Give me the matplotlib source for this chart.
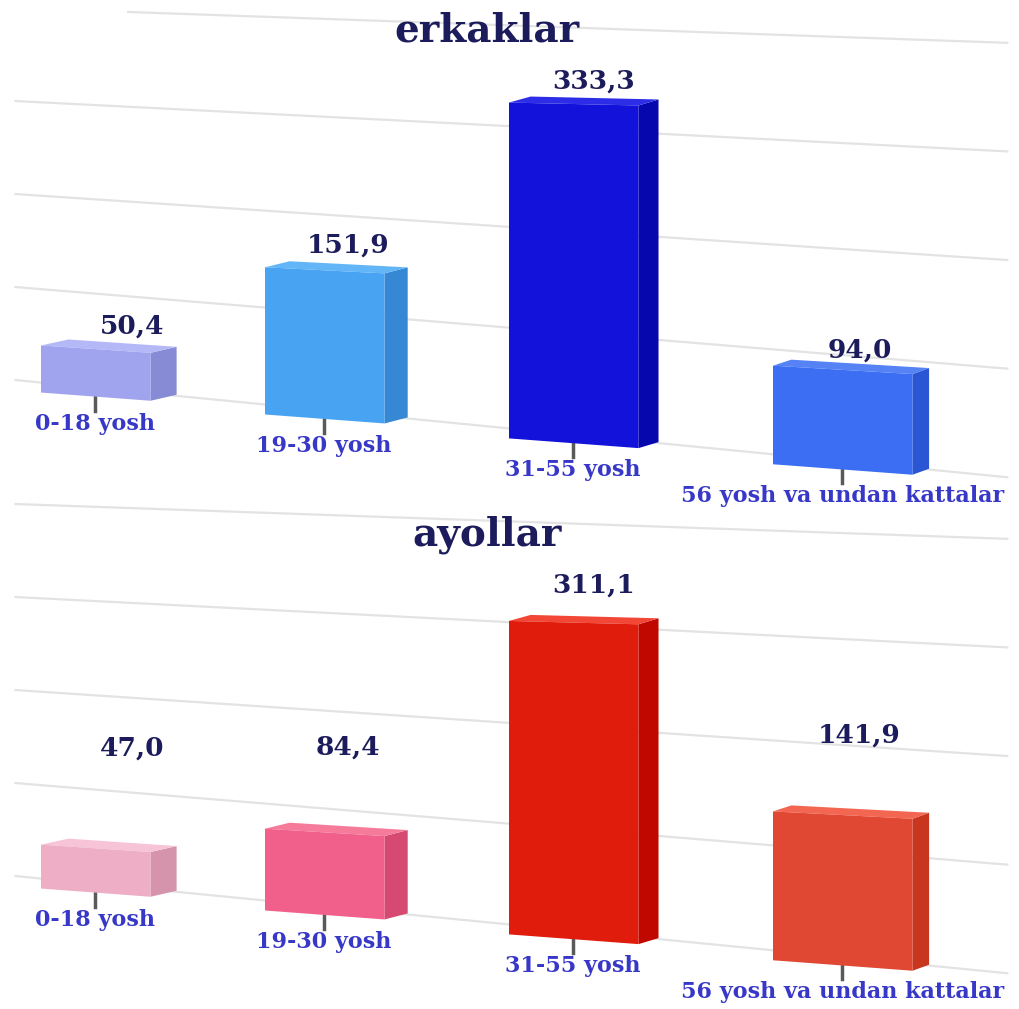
"""Two pseudo-3D bar panels (erkaklar / ayollar) on a tilted perspective floor."""
import numpy as np
import matplotlib
matplotlib.use("Agg")
import matplotlib.pyplot as plt
import matplotlib.transforms as mtransforms

# ---- data -----------------------------------------------------------------
AGE_GROUPS = ["0-18 yosh", "19-30 yosh", "31-55 yosh", "56 yosh va undan kattalar"]
MEN = [50.4, 151.9, 333.3, 94.0]
WOMEN = [47.0, 84.4, 311.1, 141.9]
GRID_VALUES = [0, 100, 200, 300, 400]

# ---- style ----------------------------------------------------------------
MEN_FRONT = ["#a0a4ee", "#48a4f2", "#1212da", "#3b6ef2"]
MEN_SIDE = ["#878bd6", "#3788d4", "#0707ae", "#2a56d4"]
MEN_TOP = ["#b4b8f7", "#62b5f7", "#2d2de8", "#5583f6"]
WOMEN_FRONT = ["#eeaec6", "#f0608a", "#e01c0c", "#e04834"]
WOMEN_SIDE = ["#d594ab", "#d64a72", "#c00800", "#c83620"]
WOMEN_TOP = ["#f7c4d7", "#f67b9b", "#f24636", "#f26652"]
VALUE_LIFT_MEN = [17, 19, 17, 14]        # px above the bar's back top edge
VALUE_LIFT_WOMEN = [94, 79, 32, 74]
VALUE_SHIFT = [10, 0, 0, 0]              # px, small horizontal nudges
NAVY = "#1c1c5c"
LABEL_BLUE = "#3838c8"
GRID = "#e3e3e3"
BAR_W = 0.5
FONT = "DejaVu Serif"

W, H = 1019, 1009


def col_x(u):
    return 41 + 214 * u + 10 * u ** 2


class Tilt(mtransforms.Transform):
    """(category position, value) -> pixel coords on the perspective floor.

    Bars (lift > 0) sit in front of the wall: they are shifted down and their
    own edges slope a little less than the wall grid.
    """
    input_dims = output_dims = 2
    is_separable = False
    has_inverse = False

    def __init__(self, yoff, lift=0.0, back=False):
        super().__init__()
        self.yoff, self.lift, self.back = yoff, lift, back

    def transform_non_affine(self, values):
        values = np.asarray(values, dtype=float)
        u, v = values[:, 0], values[:, 1]
        x = col_x(u)
        if self.lift:
            xa = col_x(np.floor(u + 1e-9))
            floor = 0.098 * (xa - 15) + 0.075 * (x - xa)
        else:
            floor = 0.098 * (x - 15)
        y = (self.yoff + 380 + floor
             - v * (0.93 + 0.156 * (x - 15) / 992) + self.lift)
        if self.back:
            x = x + (28 - 0.0125 * x)
            y = y - 6
        return np.column_stack([x, y])


fig = plt.figure(figsize=(W / 100, H / 100), dpi=100)
ax = fig.add_axes([0, 0, 1, 1])
ax.set_xlim(0, W)
ax.set_ylim(H, 0)
ax.axis("off")


def draw_panel(yoff, title, title_y, values, front, side, top, lifts):
    wall = Tilt(yoff)
    tf_front = Tilt(yoff, lift=10)
    tf_back = Tilt(yoff, lift=10, back=True)

    for g in GRID_VALUES:
        u0 = 0.4 if (g == GRID_VALUES[-1] and yoff == 0) else -0.12
        u = np.linspace(u0, 3.83, 2)
        ax.plot(u, np.full_like(u, g), color=GRID, lw=1.6,
                transform=wall + ax.transData, zorder=1)

    for i, val in enumerate(values):
        u0, u1 = i, i + BAR_W
        # side face: front right edge -> back right edge
        fr = tf_front.transform([[u1, 0], [u1, val]])
        br = tf_back.transform([[u1, 0], [u1, val]])
        ax.fill([fr[0, 0], br[0, 0], br[1, 0], fr[1, 0]],
                [fr[0, 1], br[0, 1], br[1, 1], fr[1, 1]],
                color=side[i], lw=0, zorder=3)
        # top face: front top edge -> back top edge
        ft = tf_front.transform([[u0, val], [u1, val]])
        bt = tf_back.transform([[u0, val], [u1, val]])
        ax.fill([ft[0, 0], ft[1, 0], bt[1, 0], bt[0, 0]],
                [ft[0, 1], ft[1, 1], bt[1, 1], bt[0, 1]],
                color=top[i], lw=0, zorder=3)
        # front face
        ax.fill([u0, u1, u1, u0], [0, 0, val, val], color=front[i], lw=0,
                transform=tf_front + ax.transData, zorder=4)

        # tick and category label
        bx, by = tf_front.transform([[i + BAR_W / 2, 0]])[0]
        ax.plot([bx, bx], [by, by + 14], color="#5a5a5a", lw=2.5, zorder=2)
        ax.text(bx, by + 16, AGE_GROUPS[i], ha="center", va="top",
                fontsize=16, fontweight="bold", family=FONT, color=LABEL_BLUE,
                zorder=5)

        # value label
        tx, ty = tf_back.transform([[i + BAR_W / 2, val]])[0]
        ax.text(tx + VALUE_SHIFT[i], ty - lifts[i], f"{val:.1f}".replace(".", ","),
                ha="center", va="center", fontsize=19, fontweight="bold",
                family=FONT, color=NAVY, zorder=5)

    ax.text(487, title_y, title, ha="center", va="baseline", fontsize=28,
            fontweight="bold", family=FONT, color=NAVY, zorder=5)


draw_panel(0, "erkaklar", 42, MEN, MEN_FRONT, MEN_SIDE, MEN_TOP, VALUE_LIFT_MEN)
draw_panel(496, "ayollar", 545, WOMEN, WOMEN_FRONT, WOMEN_SIDE, WOMEN_TOP,
           VALUE_LIFT_WOMEN)

fig.savefig("out.png", dpi=100, facecolor="white")
